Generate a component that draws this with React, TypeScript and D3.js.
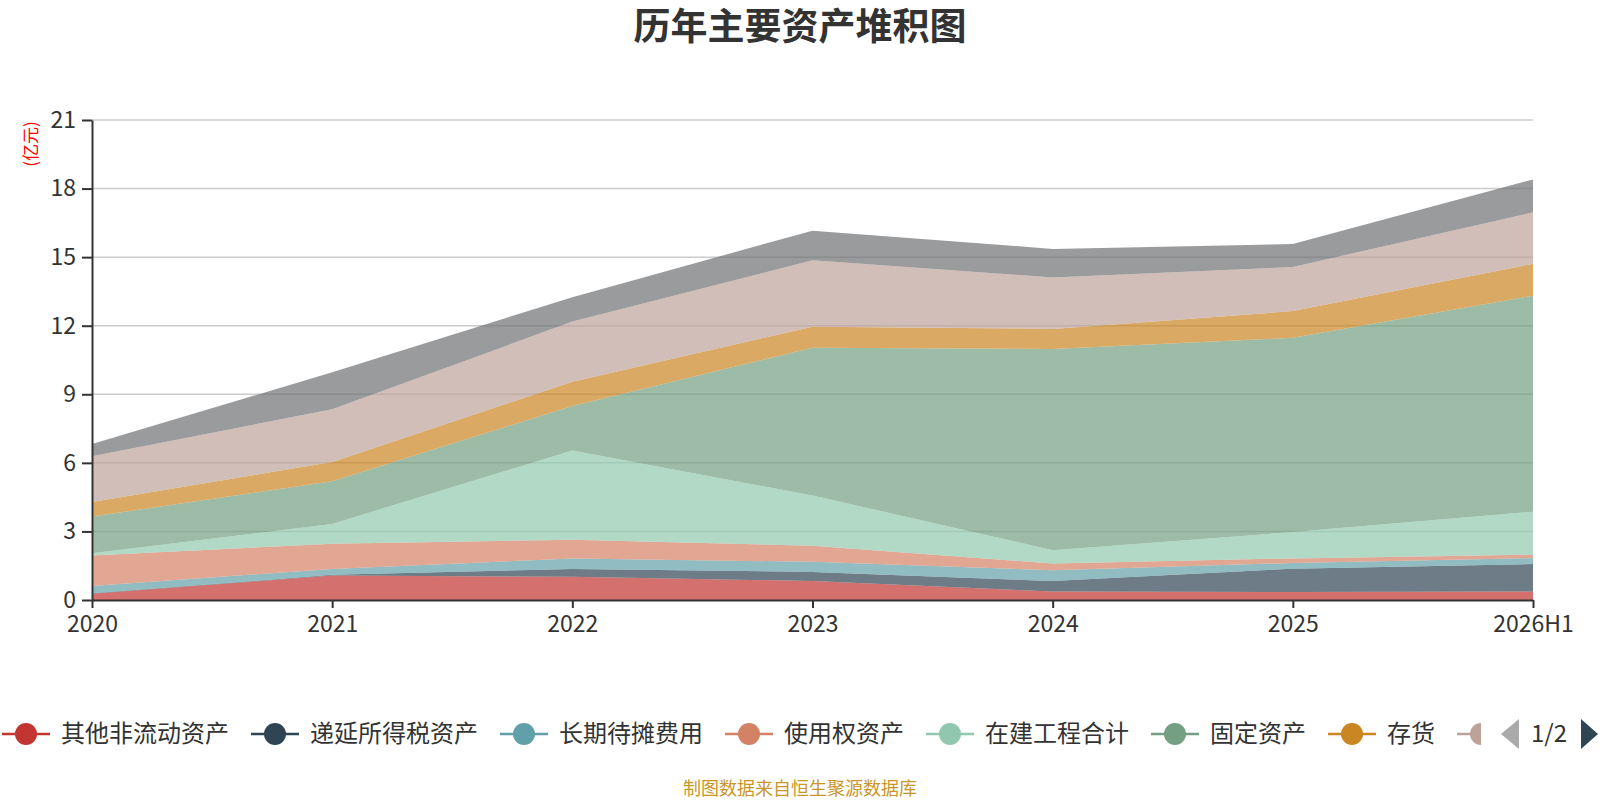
import React, { useRef, useEffect } from "react";
import * as d3 from "d3";

const years = ["2020", "2021", "2022", "2023", "2024", "2025", "2026H1"];
const seriesNames = [
	"其他非流动资产",
	"递延所得税资产",
	"长期待摊费用",
	"使用权资产",
	"在建工程合计",
	"固定资产",
	"存货",
	"应收账款",
	"货币资金",
];
const seriesColors = ["#c23531", "#2f4554", "#61a0a8", "#d48265", "#91c7ae", "#749f83", "#ca8622", "#bda29a", "#6e7074"];

// 单位：亿元
const otherNonCurrent = [0.27, 1.07, 1.02, 0.83, 0.37, 0.35, 0.37];
const deferredTax = [0.02, 0.03, 0.34, 0.4, 0.46, 1.02, 1.2];
const longTermPrepaid = [0.32, 0.26, 0.46, 0.44, 0.47, 0.25, 0.26];
const rightOfUse = [1.34, 1.1, 0.82, 0.7, 0.3, 0.2, 0.15];
const construction = [0.1, 0.87, 3.9, 2.2, 0.58, 1.15, 1.88];
const fixedAssets = [1.6, 1.86, 1.95, 6.47, 8.8, 8.5, 9.45];
const inventory = [0.64, 0.85, 1.06, 0.92, 0.88, 1.17, 1.4];
const receivables = [2.0, 2.3, 2.63, 2.9, 2.25, 1.93, 2.25];
const cash = [0.54, 1.62, 1.07, 1.3, 1.25, 1.0, 1.44];

const yTicks = [0, 3, 6, 9, 12, 15, 18, 21];
const legendPage = 8; // 第一页显示的图例数（最后一个只露出半个图标）

const FONT = "'Noto Sans CJK SC', 'Noto Sans', sans-serif";

const App = () => {
	const svgRef = useRef<SVGSVGElement | null>(null);

	useEffect(() => {
		if (!svgRef.current) return;
		const svg = d3.select(svgRef.current);
		svg.selectAll("*").remove();

		const width = 1600;
		const height = 800;
		const left = 92;
		const right = 1533;
		const top = 120;
		const bottom = 600;

		const values = [
			otherNonCurrent,
			deferredTax,
			longTermPrepaid,
			rightOfUse,
			construction,
			fixedAssets,
			inventory,
			receivables,
			cash,
		];
		const table = years.map((year, i) => {
			const row: Record<string, number | string> = { year };
			seriesNames.forEach((name, s) => (row[name] = values[s][i]));
			return row;
		});
		const stacked = d3.stack<any>().keys(seriesNames)(table);

		const x = d3.scalePoint<string>().domain(years).range([left, right]);
		const y = d3.scaleLinear().domain([0, 21]).range([bottom, top]);

		svg.attr("width", width).attr("height", height).style("font-family", FONT);

		// 标题
		svg.append("text")
			.attr("x", 800)
			.attr("y", 40)
			.attr("text-anchor", "middle")
			.attr("font-size", 37)
			.attr("font-weight", "bold")
			.attr("fill", "#333")
			.text("历年主要资产堆积图");

		// 网格线
		svg.append("g")
			.selectAll("line")
			.data(yTicks.filter((t) => t > 0))
			.join("line")
			.attr("x1", left)
			.attr("x2", right)
			.attr("y1", (d) => y(d))
			.attr("y2", (d) => y(d))
			.attr("stroke", "#ccc")
			.attr("stroke-width", 1.5);

		// 堆积面积
		const area = d3
			.area<any>()
			.x((d) => x(d.data.year)!)
			.y0((d) => y(d[0]))
			.y1((d) => y(d[1]));

		svg.append("g")
			.selectAll("path")
			.data(stacked)
			.join("path")
			.attr("d", area)
			.attr("fill", (_, i) => seriesColors[i])
			.attr("fill-opacity", 0.7);

		// 坐标轴
		const yAxis = d3.axisLeft(y).tickValues(yTicks).tickSize(10).tickSizeOuter(0).tickPadding(6);
		const gy = svg.append("g").attr("transform", `translate(${left},0)`).call(yAxis);
		gy.attr("font-family", null).attr("font-size", 23);
		gy.selectAll("text").attr("fill", "#333");
		gy.selectAll("line").attr("stroke", "#333").attr("stroke-width", 2);
		gy.select(".domain").attr("stroke", "#333").attr("stroke-width", 2);

		const xAxis = d3.axisBottom(x).tickSize(8).tickSizeOuter(0).tickPadding(8);
		const gx = svg.append("g").attr("transform", `translate(0,${bottom})`).call(xAxis);
		gx.attr("font-family", null).attr("font-size", 23);
		gx.selectAll("text").attr("fill", "#333");
		gx.selectAll("line").attr("stroke", "#333").attr("stroke-width", 2);
		gx.select(".domain").attr("stroke", "#333").attr("stroke-width", 2);

		// 单位
		svg.append("text")
			.attr("transform", "translate(37,144) rotate(-90)")
			.attr("text-anchor", "middle")
			.attr("font-size", 17)
			.attr("fill", "#ff0000")
			.text("(亿元)");

		// 图例
		const legendY = 734;
		const clipRight = 1481;
		svg.append("defs")
			.append("clipPath")
			.attr("id", "legendClip")
			.append("rect")
			.attr("x", 0)
			.attr("y", legendY - 20)
			.attr("width", clipRight)
			.attr("height", 40);

		const legend = svg.append("g").attr("clip-path", "url(#legendClip)");
		const fontSize = 24;
		let cursor = 2;
		seriesNames.slice(0, legendPage).forEach((name, i) => {
			const item = legend.append("g").attr("transform", `translate(${cursor},${legendY})`);
			item.append("line")
				.attr("x1", 0)
				.attr("x2", 48)
				.attr("stroke", seriesColors[i])
				.attr("stroke-width", 2.5);
			item.append("circle").attr("cx", 24).attr("r", 11).attr("fill", seriesColors[i]);
			// 被裁掉的文字不画
			if (cursor + 59 < clipRight) {
				item.append("text")
					.attr("x", 59)
					.attr("dy", "0.35em")
					.attr("font-size", fontSize)
					.attr("fill", "#333")
					.text(name);
			}
			cursor += 59 + name.length * fontSize + 22;
		});

		// 翻页按钮
		svg.append("path")
			.attr("d", `M1501,${legendY}L1519,${legendY - 15}L1519,${legendY + 15}Z`)
			.attr("fill", "#aaa");
		svg.append("text")
			.attr("x", 1549)
			.attr("y", legendY)
			.attr("dy", "0.35em")
			.attr("text-anchor", "middle")
			.attr("font-size", 24)
			.attr("fill", "#333")
			.text("1/2");
		svg.append("path")
			.attr("d", `M1598,${legendY}L1581,${legendY - 15}L1581,${legendY + 15}Z`)
			.attr("fill", "#2f4554");

		// 数据来源
		svg.append("text")
			.attr("x", 800)
			.attr("y", 795)
			.attr("text-anchor", "middle")
			.attr("font-size", 18)
			.attr("fill", "#c9962b")
			.text("制图数据来自恒生聚源数据库");
	}, []);

	return (
		<div style={{ position: "absolute", left: 0, top: 0, width: 1600, height: 800, background: "#fff" }}>
			<svg ref={svgRef}></svg>
		</div>
	);
};

export default App;
